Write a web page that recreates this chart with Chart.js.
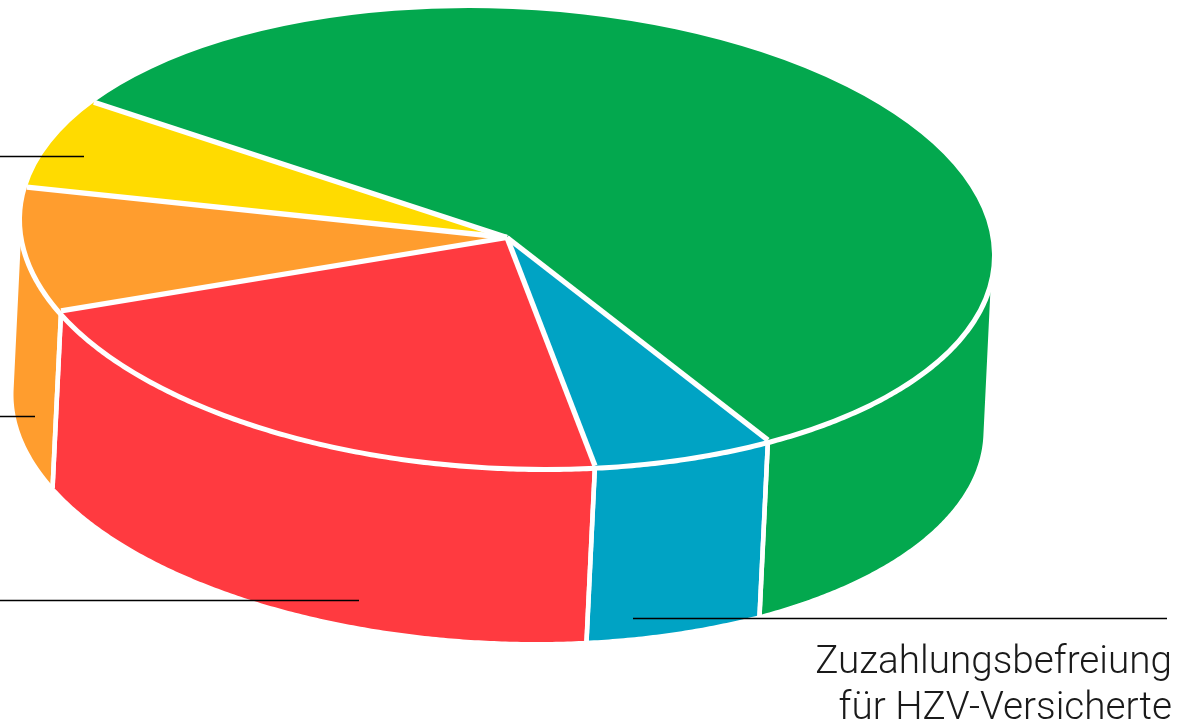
<!DOCTYPE html>
<html><head><meta charset="utf-8">
<style>html,body{margin:0;padding:0;background:#fff;overflow:hidden}canvas{display:block}</style>
<script src="https://cdn.jsdelivr.net/npm/chart.js@4"></script>
</head><body>
<canvas id="c" width="1183" height="723"></canvas>
<script>
const categories = ['Green','Zuzahlungsbefreiung für HZV-Versicherte','Red','Orange','Yellow'];
const shares = [57.18, 6.14, 21.47, 8.7, 6.51];
const colors = ['#03a84e','#00a3c4','#ff3a40','#ff9d2e','#ffdb00'];
const caption = ['Zuzahlungsbefreiung','für HZV-Versicherte'];
const leaders = [[0,156.5,84,156.5],[0,416.5,35,416.5],[0,600.5,359,600.5],[633,618.5,1167,618.5]];

const rx=485, skew=18, ry=228.8, cx=507, cy=237.5, dx=-8.5, dy=175;
const depth3d = {
  id:'depth3d',
  beforeDatasetsDraw(chart){
    const ctx=chart.ctx, arcs=chart.getDatasetMeta(0).data;
    const o=arcs[0], R=o.outerRadius;
    const P=t=>[cx+rx*Math.cos(t), cy+skew*Math.cos(t)+ry*Math.sin(t)];
    const dirU=dx/rx, dirV=(dy-skew*dirU)/ry;
    const t0=Math.atan2(-dirU,dirV);   // silhouette tangent of the extrusion
    const segs=[];
    arcs.forEach((a,i)=>{
      for(let k=-1;k<=1;k++){
        const lo=t0+2*Math.PI*k, hi=lo+Math.PI;
        const s=Math.max(a.startAngle,lo), e=Math.min(a.endAngle,hi);
        if(e>s) segs.push([s,e,colors[i]]);
      }
    });
    const trace=(s,e,ox,oy,first)=>{
      const n=Math.max(2,Math.ceil((Math.abs(e-s))/0.008));
      for(let j=0;j<=n;j++){
        const p=P(s+(e-s)*j/n);
        if(first&&j===0)ctx.moveTo(p[0]+ox,p[1]+oy);else ctx.lineTo(p[0]+ox,p[1]+oy);
      }
    };
    ctx.save();
    segs.forEach(([s,e,col])=>{
      ctx.beginPath();trace(s,e,0,0,true);trace(e,s,dx,dy,false);ctx.closePath();
      ctx.fillStyle=col;ctx.fill();
    });
    // separators on the wall, skipping the two silhouette edges
    ctx.strokeStyle='#fff';ctx.lineWidth=4.5;ctx.lineCap='butt';
    segs.forEach(([s,e])=>{
      [s,e].forEach(t=>{
        const m=Math.abs(Math.sin(t-t0));
        if(m<1e-6)return;
        const p=P(t);ctx.beginPath();ctx.moveTo(p[0],p[1]);ctx.lineTo(p[0]+dx,p[1]+dy+2);ctx.stroke();
      });
    });
    // white rim around the front of the top face
    ctx.lineWidth=10;ctx.beginPath();trace(t0,t0+Math.PI,0,0,true);ctx.stroke();
    ctx.restore();
    ctx.save();
    const m=[rx/R,skew/R,0,ry/R];
    ctx.transform(m[0],m[1],m[2],m[3],cx-m[0]*o.x,cy-m[1]*o.x-m[3]*o.y);
  },
  afterDatasetsDraw(chart){
    const ctx=chart.ctx, arcs=chart.getDatasetMeta(0).data;
    ctx.restore();
    ctx.save();
    ctx.strokeStyle='#fff';ctx.lineCap='butt';ctx.lineJoin='miter';
    const P=t=>[cx+rx*Math.cos(t), cy+skew*Math.cos(t)+ry*Math.sin(t)];
    arcs.forEach(a=>{
      const p=P(a.startAngle);
      ctx.lineWidth=5.3;
      ctx.beginPath();ctx.moveTo(cx,cy);ctx.lineTo(p[0],p[1]);ctx.stroke();
    });
    ctx.strokeStyle='#000';ctx.lineWidth=1.3;
    leaders.forEach(l=>{ctx.beginPath();ctx.moveTo(l[0],l[1]);ctx.lineTo(l[2],l[3]);ctx.stroke();});
    ctx.fillStyle='#1a1a1a';ctx.textAlign='right';ctx.textBaseline='alphabetic';
    ctx.font='300 38.7px Roboto, "Liberation Sans", sans-serif';
    ctx.fillText(caption[0],1172,673);
    ctx.fillText(caption[1],1172,719);
    ctx.restore();
  }
};
new Chart(document.getElementById('c'),{
  type:'pie',
  data:{labels:categories,datasets:[{data:shares,backgroundColor:colors,borderWidth:0,clip:false}]},
  options:{responsive:false,animation:false,rotation:301.6,events:[],
    layout:{padding:0},
    plugins:{legend:{display:false},tooltip:{enabled:false}}},
  plugins:[depth3d]
});
</script>
</body></html>
